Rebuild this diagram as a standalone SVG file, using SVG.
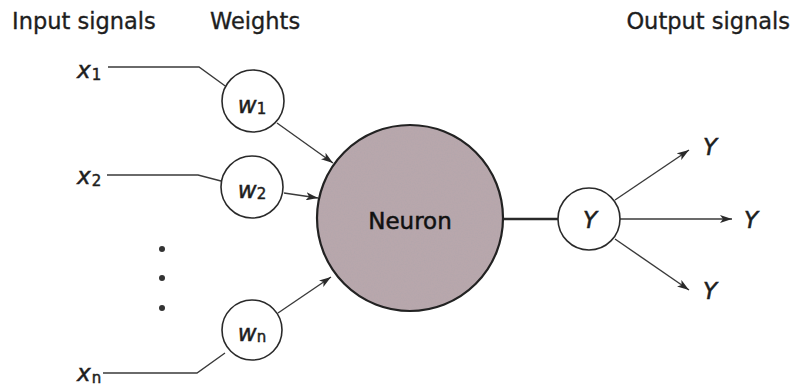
<svg xmlns="http://www.w3.org/2000/svg" width="798" height="390" viewBox="0 0 798 390">
<style>
.lbl{font-family:"DejaVu Sans",sans-serif;font-size:22.5px;fill:#1e1e1e;stroke:#1e1e1e;stroke-width:0.35}
.var{font-family:"DejaVu Sans",sans-serif;font-style:italic;font-size:23px;fill:#1e1e1e;stroke:#1e1e1e;stroke-width:0.5}
.sub{font-family:"DejaVu Sans",sans-serif;font-style:normal;font-size:15px}
.wc{fill:#fff;stroke:#2a2a2a;stroke-width:1.6}
.ln{fill:none;stroke:#3a3a3a;stroke-width:1.4}
.ar{fill:none;stroke:#3a3a3a;stroke-width:1.4;marker-end:url(#ah)}
</style>
<defs>
<marker id="ah" viewBox="0 0 12 8" refX="12" refY="4" markerWidth="12" markerHeight="8" markerUnits="userSpaceOnUse" orient="auto">
<path d="M0,0 L12,4 L0,8 L3,4 Z" fill="#2a2a2a"/>
</marker>
<filter id="noise" x="0" y="0" width="100%" height="100%">
<feTurbulence type="fractalNoise" baseFrequency="0.7" numOctaves="2" seed="3" result="t"/>
<feColorMatrix in="t" type="matrix" values="0 0 0 0 0.45  0 0 0 0 0.38  0 0 0 0 0.41  0 0 0 -2.2 1.3" result="n"/>
<feComposite in="n" in2="SourceGraphic" operator="in"/>
</filter>
</defs>
<rect width="798" height="390" fill="#fff"/>
<g id="headers">
<text class="lbl" x="12" y="29">Input signals</text>
<text class="lbl" x="210" y="29">Weights</text>
<text class="lbl" x="790" y="29" text-anchor="end">Output signals</text>
</g>
<g id="connectors">
<polyline class="ln" points="108,67 199,67 228,88"/>
<polyline class="ln" points="107,175 198,175 221,181"/>
<polyline class="ln" points="103,373 197,373 225,353"/>
<line class="ar" x1="277" y1="123" x2="333" y2="163"/>
<line class="ar" x1="284" y1="193" x2="318" y2="198"/>
<line class="ar" x1="278" y1="313" x2="331" y2="277"/>
<line x1="503" y1="219" x2="558" y2="219" stroke="#2a2a2a" stroke-width="2.6"/>
<line class="ar" x1="615" y1="200" x2="689" y2="150"/>
<line class="ar" x1="620" y1="219" x2="732" y2="219"/>
<line class="ar" x1="615" y1="239" x2="689" y2="290"/>
</g>
<g id="input-x1"><text class="var" x="77" y="78">x<tspan class="sub" dx="1" dy="2">1</tspan></text></g>
<g id="input-x2"><text class="var" x="77" y="184">x<tspan class="sub" dx="1" dy="2">2</tspan></text></g>
<g id="input-xn"><text class="var" x="77" y="381">x<tspan class="sub" dx="1" dy="2">n</tspan></text></g>
<g id="dots">
<circle cx="162" cy="249" r="3" fill="#333"/>
<circle cx="162" cy="278" r="3" fill="#333"/>
<circle cx="162" cy="308" r="3" fill="#333"/>
</g>
<g id="w1"><circle class="wc" cx="253" cy="101" r="31"/><text class="var" x="252" y="113" text-anchor="middle">w<tspan class="sub" dy="1">1</tspan></text></g>
<g id="w2"><circle class="wc" cx="252" cy="187" r="31"/><text class="var" x="252" y="198" text-anchor="middle">w<tspan class="sub" dy="1">2</tspan></text></g>
<g id="wn"><circle class="wc" cx="252" cy="330" r="30"/><text class="var" x="252" y="341" text-anchor="middle">w<tspan class="sub" dy="1">n</tspan></text></g>
<g id="neuron">
<circle cx="410" cy="218" r="93" fill="#b8a7ac"/>
<circle cx="410" cy="218" r="93" fill="#b8a7ac" filter="url(#noise)" opacity="0.85"/>
<circle cx="410" cy="218" r="93" fill="none" stroke="#222" stroke-width="2.2"/>
<text x="410" y="229" text-anchor="middle" font-family="DejaVu Sans, sans-serif" font-size="23" fill="#111" stroke="#111" stroke-width="0.5">Neuron</text>
</g>
<g id="output-node"><circle class="wc" cx="589" cy="219" r="31"/><text class="var" x="590" y="228" text-anchor="middle">Y</text></g>
<g id="outputs">
<text class="var" x="710" y="155" text-anchor="middle">Y</text>
<text class="var" x="751" y="228" text-anchor="middle">Y</text>
<text class="var" x="710" y="299" text-anchor="middle">Y</text>
</g>
</svg>
